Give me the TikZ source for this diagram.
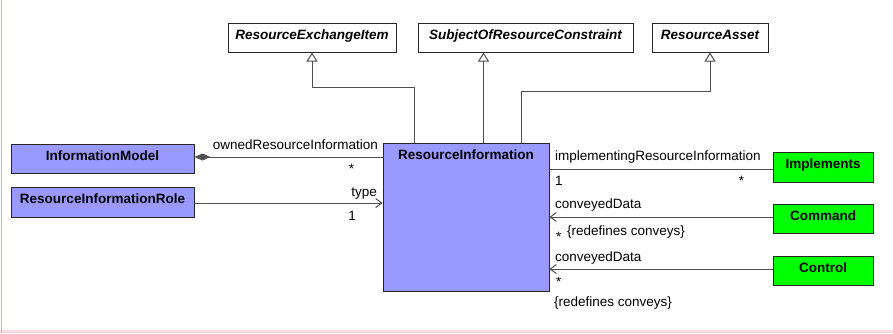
\documentclass[tikz,border=0pt]{standalone}
\usepackage{fontspec}
\setmainfont{Liberation Sans}
\usepackage{tikz}
\usetikzlibrary{arrows.meta,positioning}
\definecolor{classblue}{HTML}{9999FF}
\definecolor{classgreen}{HTML}{00FF00}
\definecolor{linegray}{HTML}{505050}
\definecolor{frameedge}{HTML}{F0A8A8}
\definecolor{framefill}{HTML}{FADADC}
\newcommand{\umlfont}{\fontsize{13.5}{16}\selectfont}

\begin{document}
\begin{tikzpicture}[x=1pt,y=-1pt,font=\umlfont,
  cls/.style={draw=black!85,line width=1pt,inner sep=0pt,text height=9.7pt,text depth=6pt,font=\umlfont\bfseries},
  abstractcls/.style={cls,fill=white,minimum height=29pt,font=\umlfont\bfseries\itshape},
  infocls/.style={cls,fill=classblue,minimum width=183pt},
  funccls/.style={cls,fill=classgreen,minimum width=100pt},
  gen/.style={draw=linegray,line width=1pt,-{Triangle[open,length=9pt,width=11pt]}},
  assoc/.style={draw=linegray,line width=1pt},
  nav/.style={assoc,-{Straight Barb[length=6pt,width=9pt]}},
  comp/.style={assoc,{Diamond[length=16pt,width=7pt]}-},
  role/.style={inner sep=1pt}]
\useasboundingbox (0,0) rectangle (893,333);
\fill[framefill] (0,330) rectangle (893,333);
\draw[frameedge,line width=1.5pt] (1.5,0)--(1.5,333);
\node[abstractcls,minimum width=168pt] (rei) at (312,37.5) {ResourceExchangeItem};
\node[abstractcls,minimum width=215pt] (sorc) at (525.5,37.5) {SubjectOfResourceConstraint};
\node[abstractcls,minimum width=116pt] (ra) at (710,37.5) {ResourceAsset};
\node[infocls,minimum height=29pt] (im) at (102.5,158.5) {InformationModel};
\node[infocls,minimum height=30pt] (rir) at (102.5,202) {ResourceInformationRole};
\node[cls,fill=classblue,minimum width=166pt,minimum height=148pt] (ri) at (466,217) {};
\node[role,anchor=base,font=\umlfont\bfseries] (riname) at (466,159.5) {ResourceInformation};
\node[funccls,minimum height=30pt] (imp) at (823,167) {Implements};
\node[funccls,minimum height=29pt] (cmd) at (823,218.5) {Command};
\node[funccls,minimum height=29pt] (ctl) at (823,270.5) {Control};
\draw[gen] ([xshift=32pt]ri.north west) -- ++(0,-55) -| (rei.south);
\draw[gen] ([xshift=101pt]ri.north west) -- ([xshift=101pt]ri.north west |- sorc.south);
\draw[gen] ([xshift=139pt]ri.north west) -- ++(0,-51) -| (ra.south);
\draw[comp] ([yshift=1.5pt]im.east) -- ([yshift=1.5pt]im.east -| ri.west)
  node[role,pos=1,anchor=base east,xshift=-3pt,yshift=8pt]{ownedResourceInformation}
  node[role,pos=1,anchor=base east,xshift=-27pt,yshift=-16pt]{*};
\draw[nav] ([yshift=-1pt]rir.east) -- ([yshift=-1pt]rir.east -| ri.west)
  node[role,pos=1,anchor=base east,xshift=-4pt,yshift=7pt]{type}
  node[role,pos=1,anchor=base east,xshift=-25pt,yshift=-17pt]{1};
\draw[assoc] ([yshift=-2pt]imp.west -| ri.east) -- ([yshift=-2pt]imp.west)
  node[role,pos=0,anchor=base west,xshift=4pt,yshift=9pt]{implementingResourceInformation}
  node[role,pos=0,anchor=base west,xshift=4pt,yshift=-16pt]{1}
  node[role,pos=1,anchor=base east,xshift=-27pt,yshift=-16.5pt]{*};
\draw[nav] ([yshift=1.5pt]cmd.west) -- ([yshift=1.5pt]cmd.west -| ri.east)
  node[role,pos=1,anchor=base west,xshift=4pt,yshift=9pt]{conveyedData}
  node[role,pos=1,anchor=base west,xshift=5pt,yshift=-24pt]{*}
  node[role,pos=1,anchor=base west,xshift=16pt,yshift=-18pt]{\{redefines conveys\}};
\draw[nav] ([yshift=1.5pt]ctl.west) -- ([yshift=1.5pt]ctl.west -| ri.east)
  node[role,pos=1,anchor=base west,xshift=4pt,yshift=8pt]{conveyedData}
  node[role,pos=1,anchor=base west,xshift=5pt,yshift=-17pt]{*}
  node[role,pos=1,anchor=base west,xshift=3pt,yshift=-37pt]{\{redefines conveys\}};
\end{tikzpicture}
\end{document}
